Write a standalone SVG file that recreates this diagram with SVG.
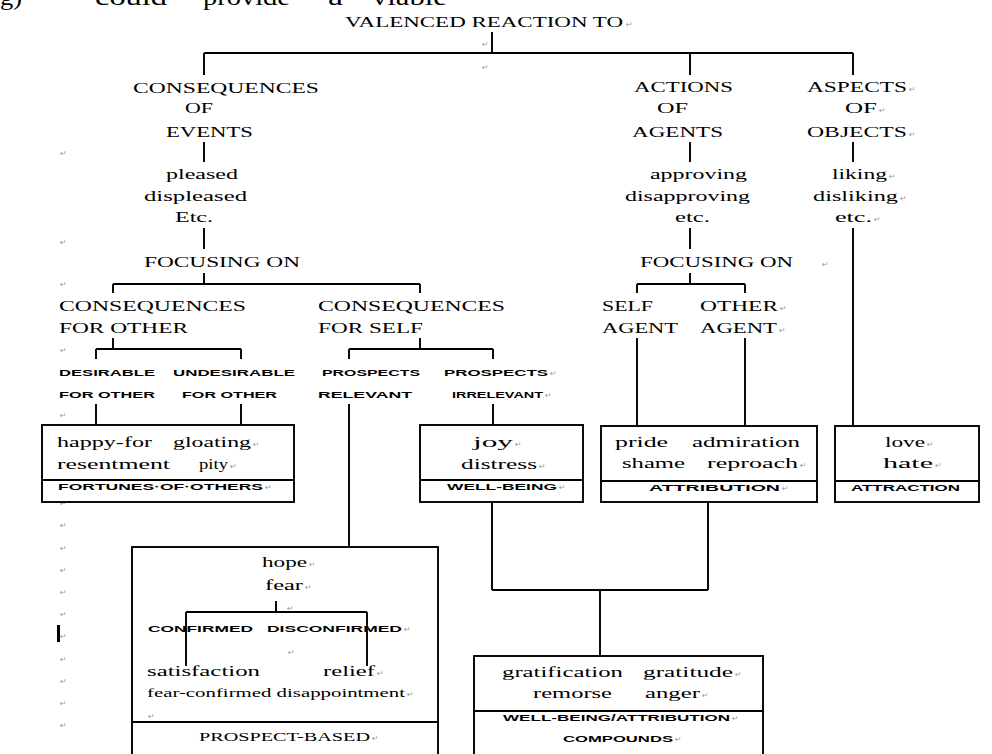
<svg xmlns="http://www.w3.org/2000/svg" width="992" height="754" viewBox="0 0 992 754">
<style>
.t{font-family:"Liberation Serif",serif;font-size:15px;fill:#000}
.s{font-family:"Liberation Sans",sans-serif;font-size:9.5px;font-weight:bold;fill:#000}
.big{font-family:"Liberation Serif",serif;font-size:23px;fill:#000}
.pm{font-family:"DejaVu Sans",sans-serif;font-size:8px;fill:#9a9a9a}
.ln{stroke:#000;stroke-width:1.9;fill:none}
.box{fill:#fff;stroke:#000;stroke-width:1.9}
</style>
<rect width="992" height="754" fill="#fff"/>
<g id="page-text">
<text class="big" x="0" y="5" textLength="22" lengthAdjust="spacingAndGlyphs">g)</text>
<text class="big" x="95" y="5" textLength="72" lengthAdjust="spacingAndGlyphs">could</text>
<text class="big" x="203" y="5" textLength="87" lengthAdjust="spacingAndGlyphs">provide</text>
<text class="big" x="328" y="5" textLength="15" lengthAdjust="spacingAndGlyphs">a</text>
<text class="big" x="372" y="5" textLength="75" lengthAdjust="spacingAndGlyphs">viable</text>
</g>
<g id="marks">
<text class="pm" x="482" y="47">↵</text><text class="pm" x="482" y="70">↵</text>
<text class="pm" x="60" y="156">↵</text><text class="pm" x="60" y="245">↵</text>
<text class="pm" x="60" y="287">↵</text><text class="pm" x="60" y="353">↵</text>
<text class="pm" x="60" y="418">↵</text><text class="pm" x="60" y="506">↵</text>
<text class="pm" x="60" y="528">↵</text><text class="pm" x="60" y="551">↵</text>
<text class="pm" x="60" y="573">↵</text><text class="pm" x="60" y="595">↵</text>
<text class="pm" x="60" y="617">↵</text><text class="pm" x="60" y="639">↵</text>
<text class="pm" x="60" y="662">↵</text><text class="pm" x="60" y="684">↵</text>
<text class="pm" x="60" y="706">↵</text><text class="pm" x="60" y="728">↵</text>
<text class="pm" x="822" y="267">↵</text>
<rect x="57" y="625" width="3" height="17" fill="#000"/>
</g>
<g id="connectors">
<path class="ln" d="M492 32V53M204 53H853M204 53V75M690 53V75M853 53V75"/>
<path class="ln" d="M204 142V162M204 228V249M204 273V284M113 284H420M113 284V293M420 284V293"/>
<path class="ln" d="M113 338V349M96 349H241M96 349V359M241 349V359M96 404V425M241 404V425"/>
<path class="ln" d="M420 338V349M349 349H493M349 349V359M493 349V359M493 404V425M349 404V547"/>
<path class="ln" d="M690 142V162M690 228V249M690 273V284M637 284H745M637 284V293M745 284V293M637 338V426M745 338V426"/>
<path class="ln" d="M853 142V162M853 228V426"/>
<path class="ln" d="M492 502V590M708 502V590M492 590H708M600 590V656"/>
</g>
<g id="root">
<text class="t" x="345" y="27" textLength="278" lengthAdjust="spacingAndGlyphs">VALENCED REACTION TO</text><text class="pm" x="626" y="27">↵</text>
</g>
<g id="events">
<text class="t" x="133" y="93" textLength="186" lengthAdjust="spacingAndGlyphs">CONSEQUENCES</text>
<text class="t" x="185" y="113" textLength="28" lengthAdjust="spacingAndGlyphs">OF</text>
<text class="t" x="166" y="137" textLength="87" lengthAdjust="spacingAndGlyphs">EVENTS</text>
</g>
<g id="agents">
<text class="t" x="634" y="92" textLength="99" lengthAdjust="spacingAndGlyphs">ACTIONS</text>
<text class="t" x="657" y="113" textLength="31" lengthAdjust="spacingAndGlyphs">OF</text>
<text class="t" x="632" y="137" textLength="91" lengthAdjust="spacingAndGlyphs">AGENTS</text>
</g>
<g id="objects">
<text class="t" x="807" y="92" textLength="100" lengthAdjust="spacingAndGlyphs">ASPECTS</text><text class="pm" x="909" y="92">↵</text>
<text class="t" x="845" y="113" textLength="32" lengthAdjust="spacingAndGlyphs">OF</text><text class="pm" x="879" y="113">↵</text>
<text class="t" x="807" y="137" textLength="100" lengthAdjust="spacingAndGlyphs">OBJECTS</text><text class="pm" x="909" y="137">↵</text>
</g>
<g id="pleased">
<text class="t" x="166" y="179" textLength="72" lengthAdjust="spacingAndGlyphs">pleased</text>
<text class="t" x="144" y="201" textLength="103" lengthAdjust="spacingAndGlyphs">displeased</text>
<text class="t" x="175" y="222" textLength="38" lengthAdjust="spacingAndGlyphs">Etc.</text>
</g>
<g id="approving">
<text class="t" x="650" y="179" textLength="97" lengthAdjust="spacingAndGlyphs">approving</text>
<text class="t" x="625" y="201" textLength="125" lengthAdjust="spacingAndGlyphs">disapproving</text>
<text class="t" x="675" y="222" textLength="35" lengthAdjust="spacingAndGlyphs">etc.</text>
</g>
<g id="liking">
<text class="t" x="832" y="179" textLength="55" lengthAdjust="spacingAndGlyphs">liking</text><text class="pm" x="889" y="179">↵</text>
<text class="t" x="813" y="201" textLength="85" lengthAdjust="spacingAndGlyphs">disliking</text><text class="pm" x="900" y="201">↵</text>
<text class="t" x="835" y="222" textLength="37" lengthAdjust="spacingAndGlyphs">etc.</text><text class="pm" x="874" y="222">↵</text>
</g>
<g id="focus-events"><text class="t" x="144" y="267" textLength="156" lengthAdjust="spacingAndGlyphs">FOCUSING ON</text></g>
<g id="focus-agents"><text class="t" x="640" y="267" textLength="153" lengthAdjust="spacingAndGlyphs">FOCUSING ON</text></g>
<g id="for-other">
<text class="t" x="59" y="311" textLength="187" lengthAdjust="spacingAndGlyphs">CONSEQUENCES</text>
<text class="t" x="59" y="333" textLength="129" lengthAdjust="spacingAndGlyphs">FOR OTHER</text>
</g>
<g id="for-self">
<text class="t" x="318" y="311" textLength="187" lengthAdjust="spacingAndGlyphs">CONSEQUENCES</text>
<text class="t" x="318" y="333" textLength="105" lengthAdjust="spacingAndGlyphs">FOR SELF</text>
</g>
<g id="self-agent">
<text class="t" x="602" y="311" textLength="51" lengthAdjust="spacingAndGlyphs">SELF</text>
<text class="t" x="602" y="333" textLength="76" lengthAdjust="spacingAndGlyphs">AGENT</text>
</g>
<g id="other-agent">
<text class="t" x="700" y="311" textLength="78" lengthAdjust="spacingAndGlyphs">OTHER</text><text class="pm" x="780" y="311">↵</text>
<text class="t" x="700" y="333" textLength="77" lengthAdjust="spacingAndGlyphs">AGENT</text><text class="pm" x="779" y="333">↵</text>
</g>
<g id="desirable">
<text class="s" x="59" y="376" textLength="96" lengthAdjust="spacingAndGlyphs">DESIRABLE</text>
<text class="s" x="59" y="398" textLength="96" lengthAdjust="spacingAndGlyphs">FOR OTHER</text>
</g>
<g id="undesirable">
<text class="s" x="173" y="376" textLength="122" lengthAdjust="spacingAndGlyphs">UNDESIRABLE</text>
<text class="s" x="182" y="398" textLength="95" lengthAdjust="spacingAndGlyphs">FOR OTHER</text>
</g>
<g id="relevant">
<text class="s" x="322" y="376" textLength="98" lengthAdjust="spacingAndGlyphs">PROSPECTS</text>
<text class="s" x="318" y="398" textLength="94" lengthAdjust="spacingAndGlyphs">RELEVANT</text>
</g>
<g id="irrelevant">
<text class="s" x="444" y="376" textLength="104" lengthAdjust="spacingAndGlyphs">PROSPECTS</text><text class="pm" x="550" y="376">↵</text>
<text class="s" x="452" y="398" textLength="91" lengthAdjust="spacingAndGlyphs">IRRELEVANT</text><text class="pm" x="545" y="398">↵</text>
</g>
<g id="fortunes-of-others">
<rect class="box" x="42" y="425" width="252" height="77"/>
<line class="ln" x1="42" y1="480" x2="294" y2="480"/>
<text class="t" x="57" y="447" textLength="95" lengthAdjust="spacingAndGlyphs">happy-for</text>
<text class="t" x="173" y="447" textLength="78" lengthAdjust="spacingAndGlyphs">gloating</text><text class="pm" x="253" y="447">↵</text>
<text class="t" x="57" y="469" textLength="113" lengthAdjust="spacingAndGlyphs">resentment</text>
<text class="t" x="199" y="469" textLength="29" lengthAdjust="spacingAndGlyphs">pity</text><text class="pm" x="230" y="469">↵</text>
<text class="s" x="58" y="490" textLength="205" lengthAdjust="spacingAndGlyphs">FORTUNES·OF·OTHERS</text><text class="pm" x="265" y="490">↵</text>
</g>
<g id="well-being">
<rect class="box" x="420" y="425" width="163" height="77"/>
<line class="ln" x1="420" y1="480" x2="583" y2="480"/>
<text class="t" x="473" y="447" textLength="40" lengthAdjust="spacingAndGlyphs">joy</text><text class="pm" x="515" y="447">↵</text>
<text class="t" x="461" y="469" textLength="76" lengthAdjust="spacingAndGlyphs">distress</text><text class="pm" x="539" y="469">↵</text>
<text class="s" x="447" y="490" textLength="110" lengthAdjust="spacingAndGlyphs">WELL-BEING</text><text class="pm" x="559" y="490">↵</text>
</g>
<g id="attribution">
<rect class="box" x="601" y="426" width="216" height="76"/>
<line class="ln" x1="601" y1="481" x2="817" y2="481"/>
<text class="t" x="615" y="447" textLength="53" lengthAdjust="spacingAndGlyphs">pride</text>
<text class="t" x="692" y="447" textLength="108" lengthAdjust="spacingAndGlyphs">admiration</text>
<text class="t" x="622" y="468" textLength="63" lengthAdjust="spacingAndGlyphs">shame</text>
<text class="t" x="707" y="468" textLength="91" lengthAdjust="spacingAndGlyphs">reproach</text><text class="pm" x="800" y="468">↵</text>
<text class="s" x="649" y="491" textLength="131" lengthAdjust="spacingAndGlyphs">ATTRIBUTION</text><text class="pm" x="782" y="491">↵</text>
</g>
<g id="attraction">
<rect class="box" x="835" y="426" width="144" height="76"/>
<line class="ln" x1="835" y1="481" x2="979" y2="481"/>
<text class="t" x="885" y="447" textLength="40" lengthAdjust="spacingAndGlyphs">love</text><text class="pm" x="927" y="447">↵</text>
<text class="t" x="883" y="468" textLength="50" lengthAdjust="spacingAndGlyphs">hate</text><text class="pm" x="935" y="468">↵</text>
<text class="s" x="851" y="491" textLength="109" lengthAdjust="spacingAndGlyphs">ATTRACTION</text>
</g>
<g id="prospect-based">
<rect class="box" x="132" y="547" width="306" height="215"/>
<line class="ln" x1="132" y1="722" x2="438" y2="722"/>
<path class="ln" d="M276 601V612M186 612H367M186 612V666M367 612V666"/>
<text class="t" x="262" y="567" textLength="45" lengthAdjust="spacingAndGlyphs">hope</text><text class="pm" x="309" y="567">↵</text>
<text class="t" x="265" y="590" textLength="38" lengthAdjust="spacingAndGlyphs">fear</text><text class="pm" x="305" y="590">↵</text>
<text class="pm" x="287" y="611">↵</text>
<text class="s" x="148" y="632" textLength="105" lengthAdjust="spacingAndGlyphs">CONFIRMED</text>
<text class="s" x="267" y="632" textLength="135" lengthAdjust="spacingAndGlyphs">DISCONFIRMED</text><text class="pm" x="404" y="632">↵</text>
<text class="pm" x="288" y="655">↵</text>
<text class="t" x="147" y="676" textLength="113" lengthAdjust="spacingAndGlyphs">satisfaction</text>
<text class="t" x="323" y="676" textLength="52" lengthAdjust="spacingAndGlyphs">relief</text><text class="pm" x="377" y="676">↵</text>
<text class="t" x="147" y="697" textLength="258" lengthAdjust="spacingAndGlyphs" style="font-size:13px">fear-confirmed disappointment</text><text class="pm" x="407" y="697">↵</text>
<text class="pm" x="148" y="719">↵</text>
<text class="t" x="199" y="741" textLength="171" lengthAdjust="spacingAndGlyphs" style="font-size:13px">PROSPECT-BASED</text><text class="pm" x="372" y="741">↵</text>
</g>
<g id="compounds">
<rect class="box" x="474" y="656" width="289" height="106"/>
<line class="ln" x1="474" y1="711" x2="763" y2="711"/>
<text class="t" x="502" y="677" textLength="121" lengthAdjust="spacingAndGlyphs">gratification</text>
<text class="t" x="643" y="677" textLength="90" lengthAdjust="spacingAndGlyphs">gratitude</text><text class="pm" x="735" y="677">↵</text>
<text class="t" x="533" y="698" textLength="79" lengthAdjust="spacingAndGlyphs">remorse</text>
<text class="t" x="645" y="698" textLength="55" lengthAdjust="spacingAndGlyphs">anger</text><text class="pm" x="702" y="698">↵</text>
<text class="s" x="503" y="721" textLength="227" lengthAdjust="spacingAndGlyphs">WELL-BEING/ATTRIBUTION</text><text class="pm" x="732" y="721">↵</text>
<text class="s" x="563" y="742" textLength="110" lengthAdjust="spacingAndGlyphs">COMPOUNDS</text><text class="pm" x="675" y="742">↵</text>
</g>
</svg>
